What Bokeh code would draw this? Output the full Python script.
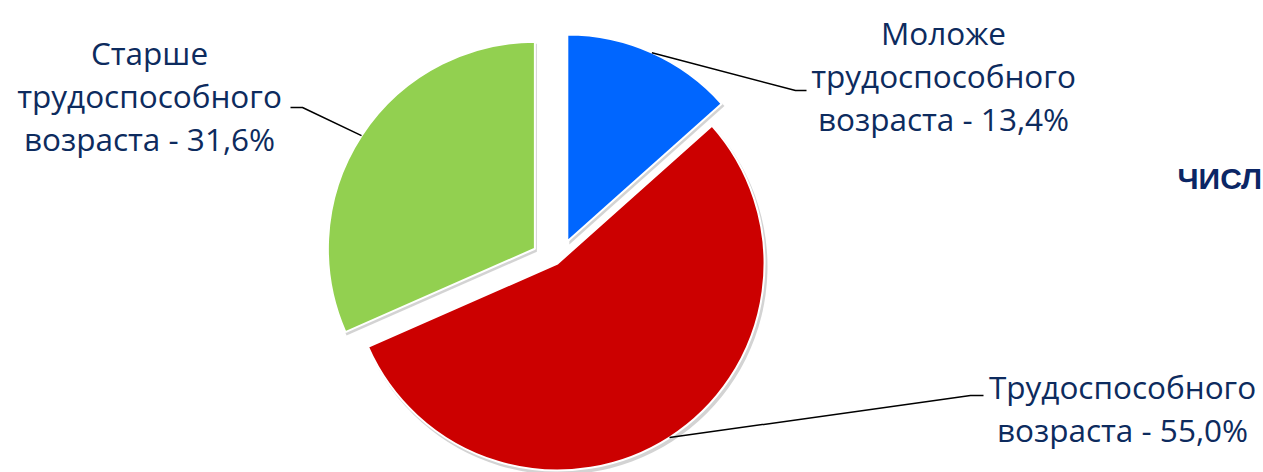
import math
from bokeh.plotting import figure
from bokeh.models import Range1d
from bokeh.core.properties import value
from bokeh.embed import file_html
from bokeh.resources import INLINE

# ---- data ----
categories = ["Моложе трудоспособного возраста",
              "Трудоспособного возраста",
              "Старше трудоспособного возраста"]
shares = [13.4, 55.0, 31.6]
label_heads = [["Моложе", "трудоспособного", "возраста"],
               ["Трудоспособного", "возраста"],
               ["Старше", "трудоспособного", "возраста"]]
colors = ["#0066FF", "#CC0000", "#92D050"]
title_fragment = "ЧИСЛ"

# ---- layout (reference pixel coords -> data coords) ----
W, H = 1263, 472
def X(px): return px
def Y(py): return H - py

cx, cy = X(557), Y(263)
R = 207
explode = [24, 0, 27]
label_pos = [(943, 118), (1122, 429), (149, 138)]   # center x, last baseline
elbows = [[(795, 90), (806, 90)], [(970, 395), (983, 395)], [(302, 107), (290, 107)]]
LH = 43
TXT = "#0D2B5E"
FONT = "Open Sans"

p = figure(width=W, height=H, x_range=Range1d(0, W), y_range=Range1d(0, H),
           output_backend="svg", toolbar_location=None, min_border=0)
p.axis.visible = False
p.grid.visible = False
p.outline_line_color = None
p.background_fill_color = "white"

total = sum(shares)
start = 90.0
for i, v in enumerate(shares):
    sweep = v / total * 360.0
    end = start - sweep
    mid = math.radians((start + end) / 2)
    ox = cx + explode[i] * math.cos(mid)
    oy = cy + explode[i] * math.sin(mid)
    # shadow
    p.wedge(x=[ox + 2], y=[oy - 3], radius=R + 1, start_angle=math.radians(start),
            end_angle=math.radians(end), direction="clock",
            fill_color="#808080", fill_alpha=0.35, line_color=None)
    p.wedge(x=[ox], y=[oy], radius=R, start_angle=math.radians(start),
            end_angle=math.radians(end), direction="clock",
            fill_color=colors[i], line_color="white", line_width=2)
    # leader line
    sx = ox + R * math.cos(mid)
    sy = oy + R * math.sin(mid)
    xs = [sx] + [X(a) for a, b in elbows[i]]
    ys = [sy] + [Y(b) for a, b in elbows[i]]
    p.line(xs, ys, line_color="black", line_width=1.5)
    # label
    pct = f"{v:.1f}".replace(".", ",") + "%"
    lines = label_heads[i][:-1] + [f"{label_heads[i][-1]} - {pct}"]
    lx, lb = label_pos[i]
    n = len(lines)
    for k, t in enumerate(lines):
        p.text(x=[X(lx)], y=[Y(lb - (n - 1 - k) * LH)], text=[t],
               text_font=value(FONT), text_font_size="31.5px",
               text_color=TXT, text_align="center", text_baseline="alphabetic")
    start = end

p.text(x=[X(1177)], y=[Y(178)], text=[title_fragment], text_font=value("Liberation Sans"),
       text_font_style="bold", text_font_size="30px", text_color="#0B2665",
       text_align="left", text_baseline="alphabetic")

open("out.html", "w").write(file_html(p, INLINE))
